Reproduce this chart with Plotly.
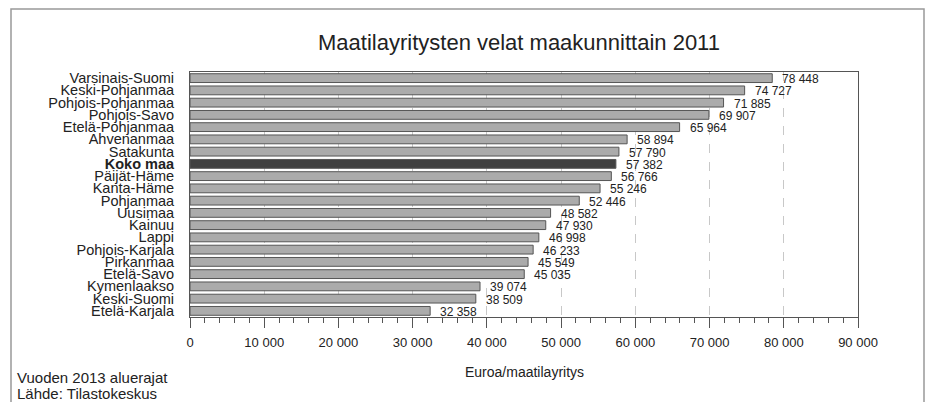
import plotly.graph_objects as go

regions = ["Varsinais-Suomi", "Keski-Pohjanmaa", "Pohjois-Pohjanmaa", "Pohjois-Savo",
           "Etelä-Pohjanmaa", "Ahvenanmaa", "Satakunta", "Koko maa", "Päijät-Häme",
           "Kanta-Häme", "Pohjanmaa", "Uusimaa", "Kainuu", "Lappi", "Pohjois-Karjala",
           "Pirkanmaa", "Etelä-Savo", "Kymenlaakso", "Keski-Suomi", "Etelä-Karjala"]
debts = [78448, 74727, 71885, 69907, 65964, 58894, 57790, 57382, 56766, 55246,
         52446, 48582, 47930, 46998, 46233, 45549, 45035, 39074, 38509, 32358]
highlight = "Koko maa"

tick_vals = [0, 10000, 20000, 30000, 40000, 50000, 60000, 70000, 80000, 90000]
tick_text = ["0", "10 000", "20 000", "30 000", "40 000", "50 000", "60 000",
             "70 000", "80 000", "90 000"]

def fmt(v):
    return f"{v:,}".replace(",", " ")

colors = ["#404040" if r == highlight else "#ababab" for r in regions]
ylabels = [f"<b>{r}</b>" if r == highlight else r for r in regions]
ypos = list(range(len(regions)))

FONT = "Liberation Sans, Arial"

fig = go.Figure(go.Bar(
    x=debts, y=ypos, orientation="h",
    marker=dict(color=colors, line=dict(color="#555555", width=1)),
    width=0.72, hoverinfo="x+y",
))

W, H = 928, 402
L, R, T, B = 190, 70, 72, 85
pw, ph = W - L - R, H - T - B

def px(x):
    return (x - L) / pw

def py(y):
    return (H - B - y) / ph

value_annotations = [
    dict(text=fmt(v), x=v, y=i, xref="x", yref="y", showarrow=False,
         xanchor="left", yanchor="middle", xshift=8, yshift=-1,
         font=dict(size=12, color="#222222", family=FONT))
    for i, v in enumerate(debts)
]

fig.update_layout(
    width=W, height=H,
    margin=dict(l=L, r=R, t=T, b=B, autoexpand=False),
    paper_bgcolor="white", plot_bgcolor="white",
    font=dict(family=FONT, color="#222222", size=13),
    showlegend=False,
    title=dict(text="Maatilayritysten velat maakunnittain 2011", x=px(519), xref="paper",
               xanchor="center", y=1 - 42 / H, yanchor="middle",
               font=dict(size=22, color="#222222")),
    xaxis=dict(range=[0, 90000], tickvals=tick_vals, ticktext=tick_text,
               showgrid=True, gridcolor="#c8c8c8", griddash="dash", gridwidth=1,
               showline=True, linecolor="#555555", linewidth=1, mirror=True,
               ticks="outside", ticklen=10, tickcolor="#555555",
               minor=dict(dtick=2000, ticks="outside", ticklen=5, tickcolor="#555555",
                          showgrid=False),
               tickfont=dict(size=13), ticklabelstandoff=3,
               zeroline=False, automargin=False),
    yaxis=dict(range=[len(regions) - 0.5, -0.5], tickmode="array", tickvals=ypos,
               ticktext=ylabels, showline=True, linecolor="#555555", linewidth=1,
               mirror=True, ticks="", tickfont=dict(size=14.5), ticklabelstandoff=12,
               showgrid=False, zeroline=False, automargin=False),
    annotations=value_annotations + [
        dict(text="Euroa/maatilayritys", x=px(524), y=py(372), xref="paper", yref="paper",
             showarrow=False, xanchor="center", yanchor="middle", font=dict(size=14)),
        dict(text="Vuoden 2013 aluerajat", x=px(15), y=py(377), xref="paper", yref="paper",
             showarrow=False, xanchor="left", yanchor="middle", font=dict(size=15)),
        dict(text="Lähde: Tilastokeskus", x=px(15), y=py(393), xref="paper", yref="paper",
             showarrow=False, xanchor="left", yanchor="middle", font=dict(size=15)),
    ],
    shapes=[
        dict(type="rect", xref="paper", yref="paper", x0=px(11), x1=px(924),
             y0=py(420), y1=py(9), line=dict(color="#999999", width=1.5),
             fillcolor="rgba(0,0,0,0)", layer="below"),
    ],
)

fig.write_html("out.html", config={"displayModeBar": False},
               post_script="document.body.style.margin='0';document.body.style.overflow='hidden';")
